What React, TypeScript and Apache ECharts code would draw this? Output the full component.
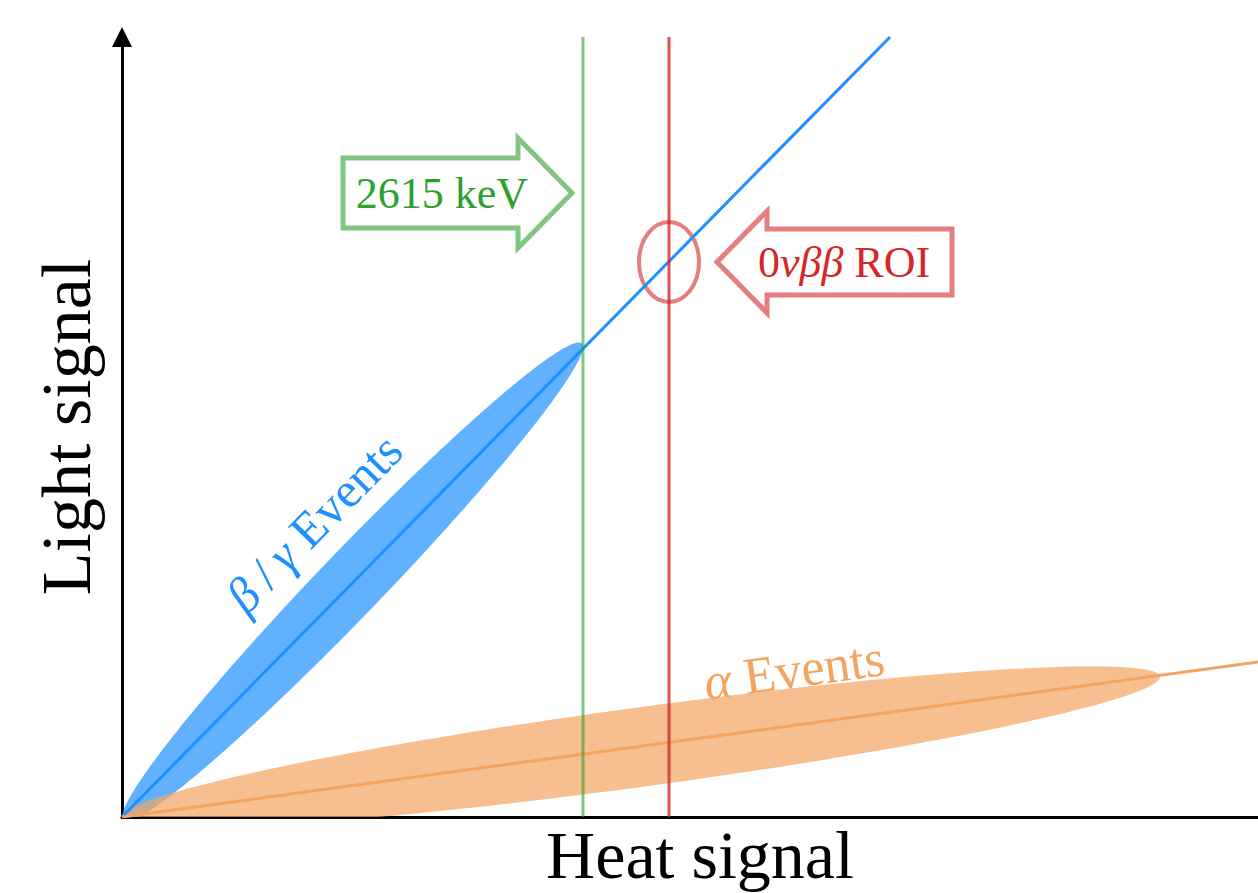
import React, { useEffect, useRef } from "react";
import * as echarts from "echarts";

// Axis extents (arbitrary units)
const X_MAX = 11.36;
const Y_MAX = 7.8;

// Event bands: [end x, end y, max vertical half-width]
const betaBand = [4.61, 4.7, 0.46];
const alphaBand = [10.38, 1.4, 0.4];

// Trend lines
const betaLine = [
  [0, 0],
  [7.68, 7.8],
];
const alphaLine = [
  [0, 0],
  [11.36, 1.55],
];

// Vertical markers
const calibX = 4.61; // 2615 keV
const roiX = 5.47; // 0νββ ROI

// ROI ellipse: [cx, cy, rx, ry]
const roiEllipse = [5.47, 5.55, 0.3, 0.4];

// Annotation anchors (arrow tips, label centres)
const calibArrowTip = [4.5, 6.24];
const roiArrowTip = [5.95, 5.55];
const betaLabelPos = [1.92, 2.94];
const alphaLabelPos = [6.72, 1.47];

const SERIF = "'Liberation Serif', 'DejaVu Serif', serif";

const BLUE = "#1e90ff";
const BLUE_FILL = "rgba(30,144,255,0.7)";
const ORANGE = "#f4a460";
const ORANGE_FILL = "rgba(244,164,96,0.7)";
const GREEN_A = "rgba(44,160,44,0.6)";
const RED_A = "rgba(214,39,40,0.6)";

function bandSeries(band: number[], color: string) {
  return {
    type: "custom",
    clip: true,
    data: [band],
    renderItem: (params: any, api: any) => {
      const L = api.value(0);
      const yE = api.value(1);
      const h = api.value(2);
      const m = yE / L;
      const pts: number[][] = [];
      const N = 180;
      for (let i = 0; i <= N; i++) {
        const t = (2 * Math.PI * i) / N;
        const x = (L / 2) * (1 - Math.cos(t));
        const y = m * x + h * Math.sin(t);
        pts.push(api.coord([x, y]));
      }
      return {
        type: "polygon",
        shape: { points: pts },
        style: { fill: color, stroke: "none" },
      };
    },
  };
}

function lineSeries(data: number[][], color: string, width = 3) {
  return {
    type: "line",
    data,
    showSymbol: false,
    symbol: "none",
    lineStyle: { color, width },
    silent: true,
  };
}

function richLabel(text: string, color: string, size: number) {
  return {
    text,
    align: "center",
    verticalAlign: "middle",
    fontFamily: SERIF,
    fontSize: size,
    fill: color,
    rich: {
      n: { fontFamily: SERIF, fontSize: size, fill: color },
      i: { fontFamily: SERIF, fontSize: size, fill: color, fontStyle: "italic" },
    },
  };
}

export default function App() {
  const ref = useRef<HTMLDivElement>(null);
  useEffect(() => {
    if (!ref.current) return;
    const chart = echarts.init(ref.current, undefined, { renderer: "svg" });
    const option: any = {
      animation: false,
      backgroundColor: "#ffffff",
      grid: { left: 122, right: 0, top: 37, bottom: 76, outerBoundsMode: "none" },
      xAxis: {
        type: "value",
        min: 0,
        max: X_MAX,
        axisLine: { show: true, lineStyle: { color: "#000", width: 3 } },
        axisTick: { show: false },
        axisLabel: { show: false },
        splitLine: { show: false },
        name: "Heat signal",
        nameLocation: "middle",
        nameGap: 4,
        nameTextStyle: {
          fontFamily: SERIF,
          fontSize: 68,
          lineHeight: 68,
          color: "#000",
          padding: [0, 0, 0, 20],
        },
      },
      yAxis: {
        type: "value",
        min: 0,
        max: Y_MAX,
        axisLine: {
          show: true,
          symbol: ["none", "triangle"],
          symbolSize: [20, 20],
          lineStyle: { color: "#000", width: 3 },
        },
        axisTick: { show: false },
        axisLabel: { show: false },
        splitLine: { show: false },
        name: "Light signal",
        nameLocation: "middle",
        nameGap: 21,
        nameTextStyle: { fontFamily: SERIF, fontSize: 70, color: "#000" },
      },
      series: [
        bandSeries(betaBand, BLUE_FILL),
        lineSeries(betaLine, BLUE),
        bandSeries(alphaBand, ORANGE_FILL),
        lineSeries(alphaLine, ORANGE),
        lineSeries(
          [
            [calibX, 0],
            [calibX, Y_MAX],
          ],
          GREEN_A
        ),
        lineSeries(
          [
            [roiX, 0],
            [roiX, Y_MAX],
          ],
          "rgba(214,39,40,0.8)"
        ),
        {
          type: "custom",
          data: [roiEllipse],
          renderItem: (params: any, api: any) => {
            const c = api.coord([api.value(0), api.value(1)]);
            const s = api.size([api.value(2), api.value(3)]);
            return {
              type: "ellipse",
              shape: { cx: c[0], cy: c[1], rx: s[0], ry: s[1] },
              style: { fill: "none", stroke: RED_A, lineWidth: 4 },
            };
          },
        },
        {
          type: "custom",
          data: [calibArrowTip],
          renderItem: (params: any, api: any) => {
            const c = api.coord([api.value(0), api.value(1)]);
            const pts = [
              [0, 0],
              [-54, -55],
              [-54, -35],
              [-229, -35],
              [-229, 35],
              [-54, 35],
              [-54, 55],
            ].map((p) => [c[0] + p[0], c[1] + p[1]]);
            return {
              type: "group",
              children: [
                {
                  type: "polygon",
                  shape: { points: pts },
                  style: { fill: "#fff", stroke: GREEN_A, lineWidth: 5, lineJoin: "miter" },
                },
                {
                  type: "text",
                  x: c[0] - 130,
                  y: c[1],
                  style: richLabel("{n|2615 keV}", "#2ca02c", 44),
                },
              ],
            };
          },
        },
        {
          type: "custom",
          data: [roiArrowTip],
          renderItem: (params: any, api: any) => {
            const c = api.coord([api.value(0), api.value(1)]);
            const pts = [
              [0, 0],
              [50, -51],
              [50, -33],
              [235, -33],
              [235, 33],
              [50, 33],
              [50, 51],
            ].map((p) => [c[0] + p[0], c[1] + p[1]]);
            return {
              type: "group",
              children: [
                {
                  type: "polygon",
                  shape: { points: pts },
                  style: { fill: "#fff", stroke: RED_A, lineWidth: 5, lineJoin: "miter" },
                },
                {
                  type: "text",
                  x: c[0] + 127,
                  y: c[1],
                  style: richLabel("{n|0}{i|νββ}{n| ROI}", "#d62728", 44),
                },
              ],
            };
          },
        },
        {
          type: "custom",
          data: [betaLabelPos],
          renderItem: (params: any, api: any) => {
            const c = api.coord([api.value(0), api.value(1)]);
            return {
              type: "text",
              x: c[0],
              y: c[1],
              rotation: (45.6 * Math.PI) / 180,
              style: richLabel("{i|β}{n|\u2009/\u2009}{i|γ}{n| Events}", BLUE, 50),
            };
          },
        },
        {
          type: "custom",
          data: [alphaLabelPos],
          renderItem: (params: any, api: any) => {
            const c = api.coord([api.value(0), api.value(1)]);
            return {
              type: "text",
              x: c[0],
              y: c[1],
              rotation: (8 * Math.PI) / 180,
              style: richLabel("{i|α}{n| Events}", ORANGE, 52),
            };
          },
        },
      ],
    };
    chart.setOption(option);
    return () => chart.dispose();
  }, []);
  return (
    <div
      ref={ref}
      style={{ position: "absolute", left: 0, top: 0, width: 1258, height: 893 }}
    />
  );
}
